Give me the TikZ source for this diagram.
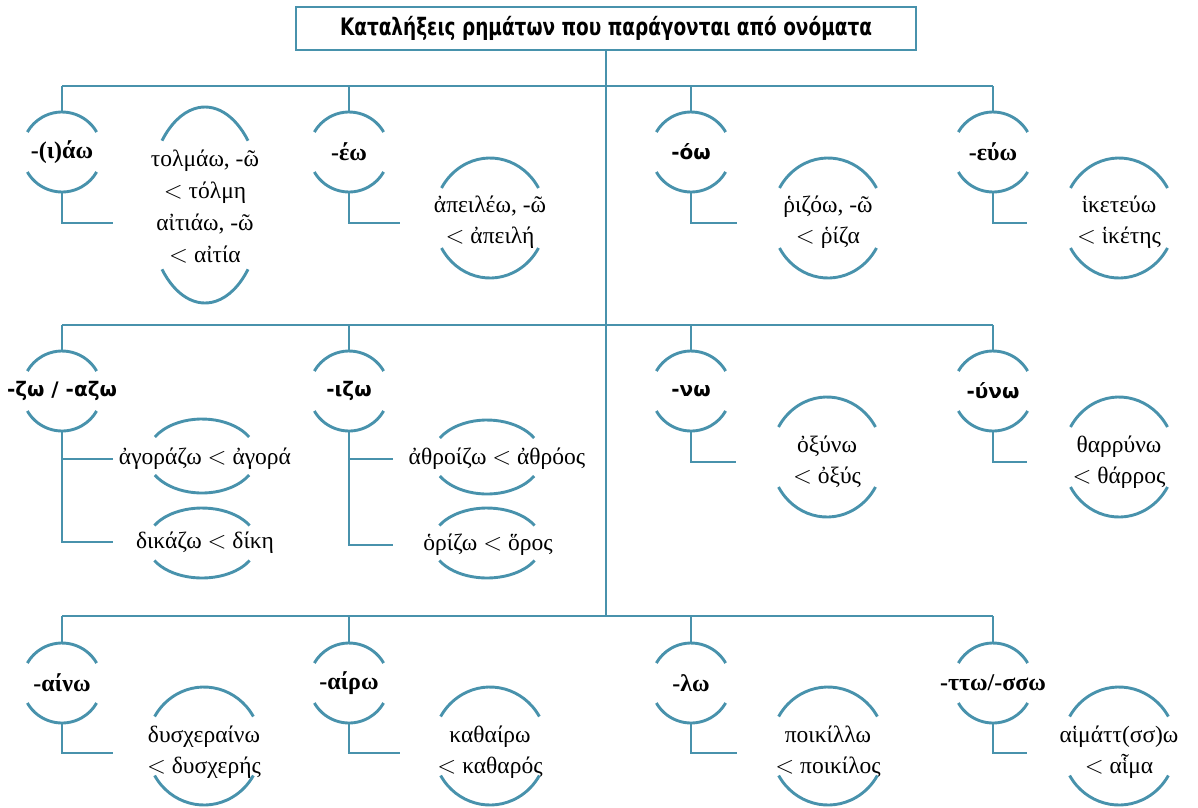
\documentclass[tikz,border=0pt]{standalone}
\usepackage{fontspec}
\usepackage{graphicx}
\setmainfont{Liberation Serif}
\newfontfamily\sansgr{DejaVu Sans}
\usetikzlibrary{calc}
\definecolor{teal1}{RGB}{72,146,172}
\newcommand\ovalarcs[4]{%
  \draw[ln] #1 ++(#4:#2pt and #3pt) arc[start angle=#4, end angle=180-#4, x radius=#2pt, y radius=#3pt];
  \draw[ln] #1 ++(180+#4:#2pt and #3pt) arc[start angle=180+#4, end angle=360-#4, x radius=#2pt, y radius=#3pt];
}
\begin{document}
\begin{tikzpicture}[x=1pt,y=-1pt,
  ln/.style={draw=teal1, line width=2.9pt},
  lab/.style={font=\fontsize{24}{28}\selectfont\bfseries, minimum height=80pt, inner sep=0pt},
  labs/.style={font=\fontsize{20}{24}\selectfont\sansgr\bfseries, minimum height=80pt, inner sep=0pt},
  ex/.style={font=\fontsize{23.5}{31.5}\selectfont, align=center, inner sep=0pt}]
\useasboundingbox (0,0) rectangle (1198,807);

% title and trunk
\node[draw=teal1, line width=2.6pt, minimum width=620pt, minimum height=43pt, inner sep=0pt] (title) at (606,28.5)
  {\resizebox{532pt}{\height}{\fontsize{24}{28}\selectfont\sansgr\bfseries Καταλήξεις ρημάτων που παράγονται από ονόματα}};
\coordinate (t3) at (606,616);
\draw[ln] (title.south) -- (t3);

% ---------- row 1 ----------
\coordinate (r1a) at (62,86);  \coordinate (r1b) at (349,86);
\coordinate (r1c) at (691,86); \coordinate (r1d) at (993,86);
\draw[ln] (r1a) -- (r1d);
\node[lab]  (L1a) at (62,152)  {-(ι)άω};
\node[lab]  (L1b) at (349,152) {-έω};
\node[labs] (L1c) at (691,152) {-όω};
\node[lab]  (L1d) at (993,152) {-εύω};
\foreach \c in {a,b,c,d}{\draw[ln] (r1\c) -- (L1\c.north); \ovalarcs{(L1\c.center)}{40}{40}{30}}
\coordinate (s1a) at (113,223); \coordinate (s1b) at (400,223);
\coordinate (s1c) at (737,223); \coordinate (s1d) at (1027,223);
\foreach \c in {a,b,c,d}{\draw[ln] (L1\c.south) |- (s1\c);}
\node[ex, font=\fontsize{23.5}{32}\selectfont] (E1a) at (205,207) {τολμάω, -ῶ\\$<$ τόλμη\\αἰτιάω, -ῶ\\$<$ αἰτία};
\ovalarcs{(205,205)}{57}{98}{41}
\node[ex] (E1b) at (490,222) {ἀπειλέω, -ῶ\\$<$ ἀπειλή};
\ovalarcs{(490,218)}{56}{60}{30}
\node[ex] (E1c) at (828,222) {ῥιζόω, -ῶ\\$<$ ῥίζα};
\ovalarcs{(828,218)}{56}{60}{30}
\node[ex] (E1d) at (1119,222) {ἱκετεύω\\$<$ ἱκέτης};
\ovalarcs{(1119,218)}{56}{60}{30}

% ---------- row 2 ----------
\coordinate (r2a) at (62,325);  \coordinate (r2b) at (349,325);
\coordinate (r2c) at (691,325); \coordinate (r2d) at (993,325);
\draw[ln] (r2a) -- (r2d);
\node[labs] (L2a) at (62,391)  {-ζω / -αζω};
\node[labs] (L2b) at (349,391) {-ιζω};
\node[labs] (L2c) at (691,391) {-νω};
\node[labs] (L2d) at (993,391) {-ύνω};
\foreach \c in {a,b,c,d}{\draw[ln] (r2\c) -- (L2\c.north); \ovalarcs{(L2\c.center)}{40}{40}{30}}
\coordinate (s2a1) at (113,459); \coordinate (s2a2) at (113,542);
\coordinate (s2b1) at (393,459); \coordinate (s2b2) at (393,545);
\draw[ln] (L2a.south) |- (s2a2);
\draw[ln] (L2a.south |- s2a1) -- (s2a1);
\draw[ln] (L2b.south) |- (s2b2);
\draw[ln] (L2b.south |- s2b1) -- (s2b1);
\coordinate (s2c) at (736,462); \coordinate (s2d) at (1027,462);
\draw[ln] (L2c.south) |- (s2c);
\draw[ln] (L2d.south) |- (s2d);
\node[ex] (E2a1) at (205,459) {ἀγοράζω $<$ ἀγορά};
\ovalarcs{(202,456)}{55}{37}{31}
\node[ex] (E2a2) at (205,543) {δικάζω $<$ δίκη};
\ovalarcs{(202,543)}{55}{35}{30}
\node[ex] (E2b1) at (497,459) {ἀθροίζω $<$ ἀθρόος};
\ovalarcs{(487,457)}{55}{37}{31}
\node[ex] (E2b2) at (488,545) {ὁρίζω $<$ ὅρος};
\ovalarcs{(487,543)}{55}{35}{30}
\node[ex] (E2c) at (827,462) {ὀξύνω\\$<$ ὀξύς};
\ovalarcs{(827,457)}{56}{60}{30}
\node[ex] (E2d) at (1119,462) {θαρρύνω\\$<$ θάρρος};
\ovalarcs{(1119,457)}{56}{60}{30}

% ---------- row 3 ----------
\coordinate (r3a) at (62,616);  \coordinate (r3b) at (349,616);
\coordinate (r3c) at (691,616); \coordinate (r3d) at (993,616);
\draw[ln] (r3a) -- (r3d);
\node[lab] (L3a) at (62,683)  {-αίνω};
\node[lab] (L3b) at (349,683) {-αίρω};
\node[lab] (L3c) at (691,683) {-λω};
\node[lab] (L3d) at (993,683) {-ττω/-σσω};
\foreach \c in {a,b,c,d}{\draw[ln] (r3\c) -- (L3\c.north); \ovalarcs{(L3\c.center)}{40}{40}{30}}
\coordinate (s3a) at (113,753); \coordinate (s3b) at (400,753);
\coordinate (s3c) at (737,753); \coordinate (s3d) at (1027,753);
\foreach \c in {a,b,c,d}{\draw[ln] (L3\c.south) |- (s3\c);}
\node[ex] (E3a) at (204,752) {δυσχεραίνω\\$<$ δυσχερής};
\ovalarcs{(204,746)}{57}{59}{30}
\node[ex] (E3b) at (490,752) {καθαίρω\\$<$ καθαρός};
\ovalarcs{(490,746)}{57}{59}{30}
\node[ex] (E3c) at (828,752) {ποικίλλω\\$<$ ποικίλος};
\ovalarcs{(828,746)}{57}{59}{30}
\node[ex] (E3d) at (1119,752) {αἱμάττ(σσ)ω\\$<$ αἷμα};
\ovalarcs{(1119,746)}{57}{59}{30}
\end{tikzpicture}
\end{document}
